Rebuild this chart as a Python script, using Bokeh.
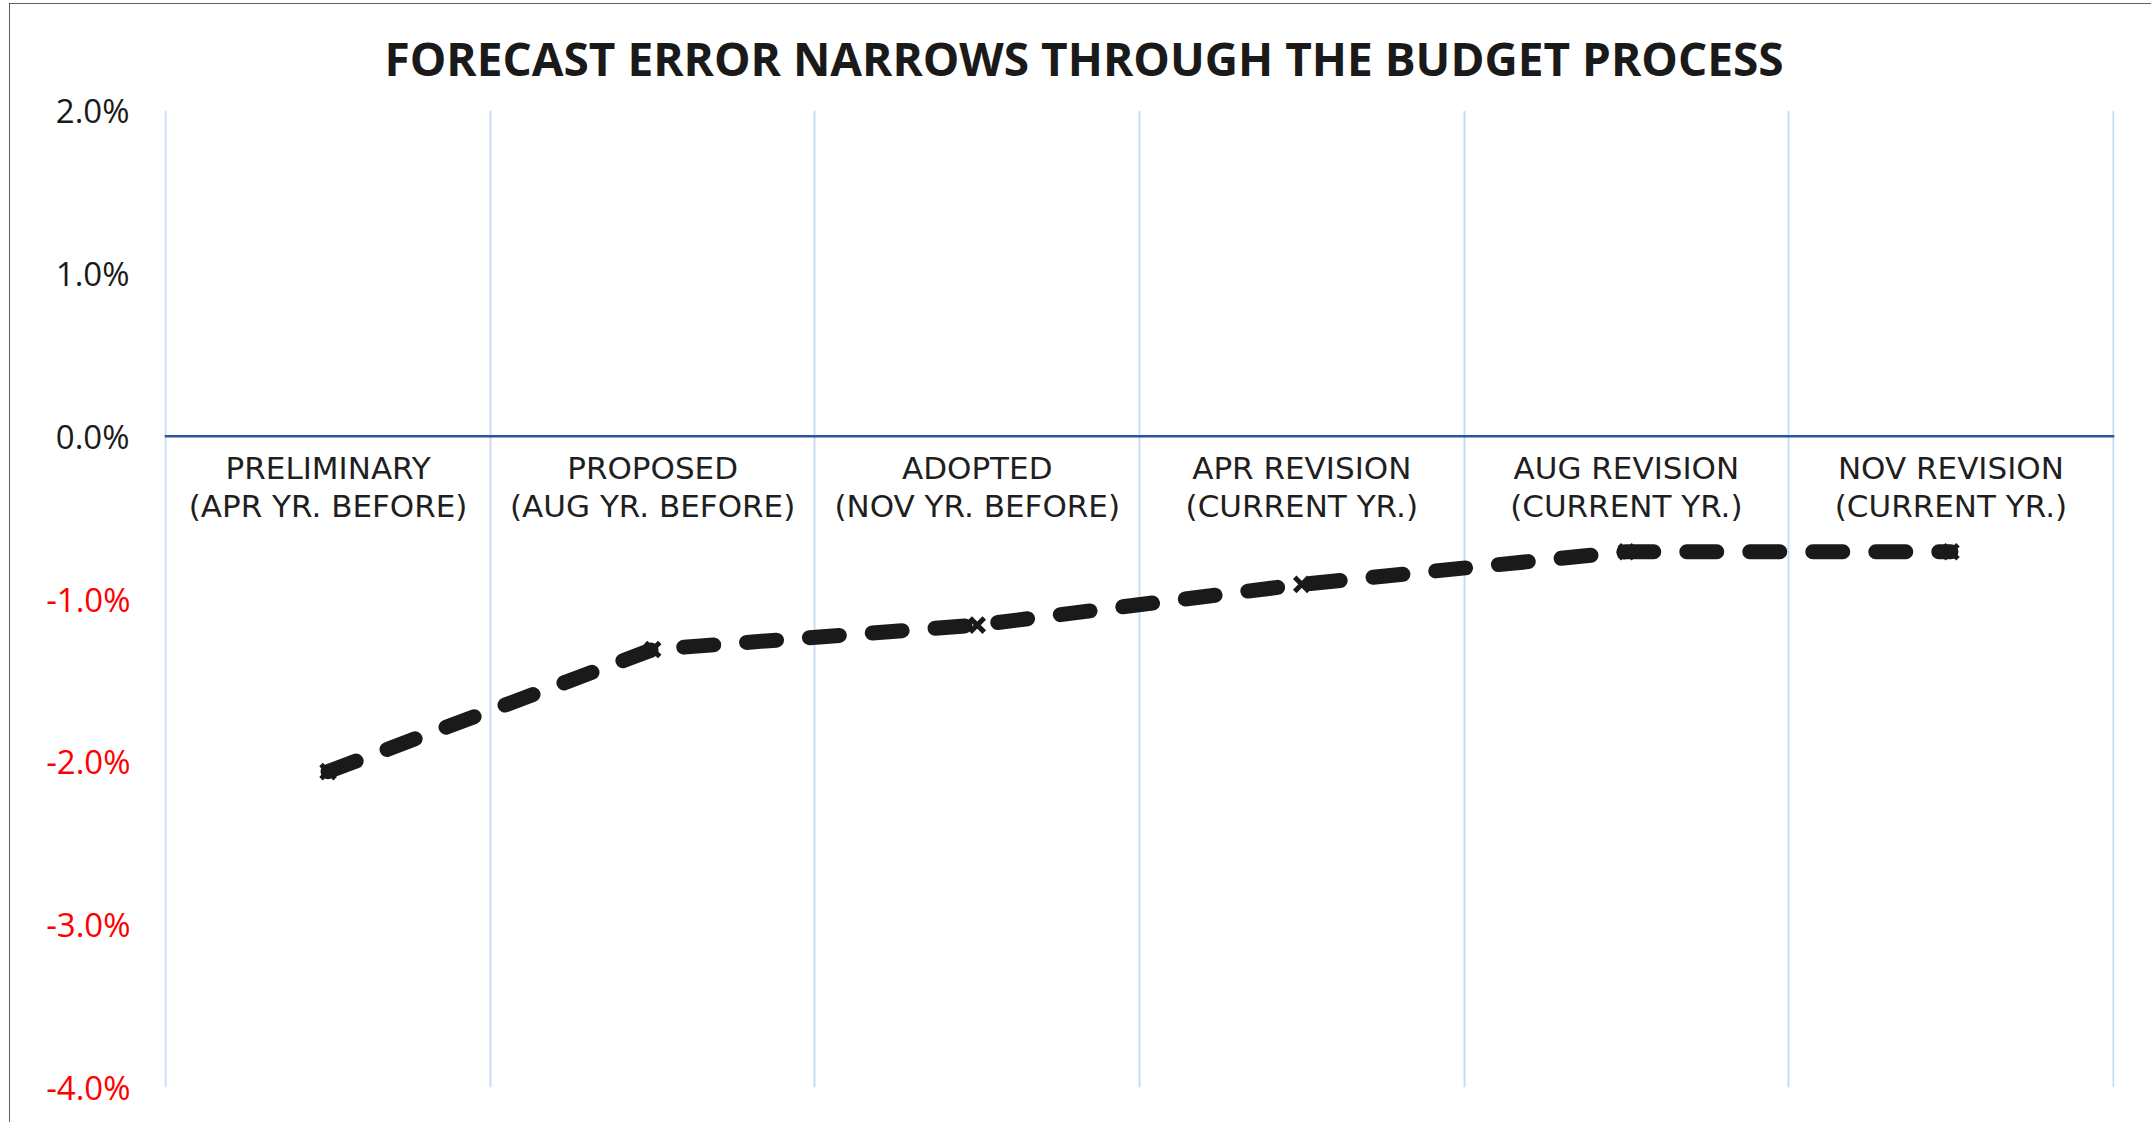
from bokeh.plotting import figure
from bokeh.models import ColumnDataSource, FixedTicker, Span, Range1d, LinearAxis
from bokeh.core.properties import value
from bokeh.embed import file_html
from bokeh.resources import INLINE

# ---- data ----
title_text = "FORECAST ERROR NARROWS THROUGH THE BUDGET PROCESS"
categories_line1 = ["PRELIMINARY", "PROPOSED", "ADOPTED", "APR REVISION", "AUG REVISION", "NOV REVISION"]
categories_line2 = ["(APR YR. BEFORE)", "(AUG YR. BEFORE)", "(NOV YR. BEFORE)",
                    "(CURRENT YR.)", "(CURRENT YR.)", "(CURRENT YR.)"]
forecast_error = [-2.06, -1.31, -1.16, -0.91, -0.71, -0.71]   # percent
y_ticks = [-4, -3, -2, -1, 0, 1, 2]
y_tick_labels = ["-4.0%", "-3.0%", "-2.0%", "-1.0%", "0.0%", "1.0%", "2.0%"]

n = len(categories_line1)
xpos = [i + 0.5 for i in range(n)]
eps = 0.004

src = ColumnDataSource(dict(x=xpos, y=forecast_error,
                            zero=[0.0] * n, l1=categories_line1, l2=categories_line2))

p = figure(width=2142, height=1119, output_backend="svg", toolbar_location=None,
           x_range=Range1d(-eps, n + eps), y_range=Range1d(y_ticks[0], y_ticks[-1]),
           min_border_left=155, min_border_right=37, min_border_top=107, min_border_bottom=35,
           background_fill_color="white", border_fill_color="white")
p.outline_line_color = None
p.styles = {"margin-left": "9px", "margin-top": "3px",
            "outline": "2px solid #2b2b2b", "outline-offset": "-2px"}

# title
p.title.text = title_text
p.title.text_font = "Open Sans"
p.title.text_font_style = "bold"
p.title.text_font_size = "46px"
p.title.text_color = "#1a1a1a"
p.title.align = "left"
p.title.vertical_align = "top"
p.title.offset = 220
p.title.standoff = 40

# grids
p.ygrid.visible = False
p.xgrid.ticker = FixedTicker(ticks=list(range(n + 1)))
p.xgrid.grid_line_color = "#C9DBF7"
p.xgrid.grid_line_width = 2
p.xaxis.visible = False

LABEL_PX = 33
STANDOFF = 35

def style_axis(ax, color, standoff):
    ax.axis_line_color = None
    ax.major_tick_line_color = None
    ax.minor_tick_line_color = None
    ax.major_tick_out = 0
    ax.major_tick_in = 0
    ax.minor_tick_out = 0
    ax.minor_tick_in = 0
    ax.major_label_standoff = standoff
    ax.major_label_text_font = "Open Sans"
    ax.major_label_text_font_size = f"{LABEL_PX}px"
    ax.major_label_text_color = color

# inner axis: non-negative ticks in black
pos_ticks = [t for t in y_ticks if t >= 0]
p.yaxis.ticker = FixedTicker(ticks=pos_ticks)
p.yaxis.major_label_overrides = {t: lab for t, lab in zip(y_ticks, y_tick_labels) if t >= 0}
style_axis(p.yaxis[0], "#1a1a1a", STANDOFF)

# outer axis: negative ticks in red, pulled back to line up with the inner labels
inner_label_w = round(2.233 * LABEL_PX) + 4
neg_ticks = [t for t in y_ticks if t < 0]
red_axis = LinearAxis(ticker=FixedTicker(ticks=neg_ticks),
                      major_label_overrides={t: lab for t, lab in zip(y_ticks, y_tick_labels) if t < 0})
style_axis(red_axis, "#FF0000", -inner_label_w)
p.add_layout(red_axis, "left")

# zero line
p.add_layout(Span(location=0, dimension="width", line_color="#2F5597", line_width=2.5))

# category labels below zero line
p.text(x="x", y="zero", text="l1", source=src, y_offset=32, text_align="center",
       text_baseline="alphabetic", text_font=value("DejaVu Sans"), text_font_size="31px",
       text_color="#1f1f1f")
p.text(x="x", y="zero", text="l2", source=src, y_offset=70, text_align="center",
       text_baseline="alphabetic", text_font=value("DejaVu Sans"), text_font_size="31px",
       text_color="#1f1f1f")

# series
p.line(x="x", y="y", source=src, line_color="#1a1a1a", line_width=15,
       line_dash="30 33", line_cap="round", line_join="round")
p.scatter(x="x", y="y", source=src, marker="x", size=20, line_color="#1a1a1a", line_width=5)

open("out.html", "w").write(file_html(p, INLINE))
